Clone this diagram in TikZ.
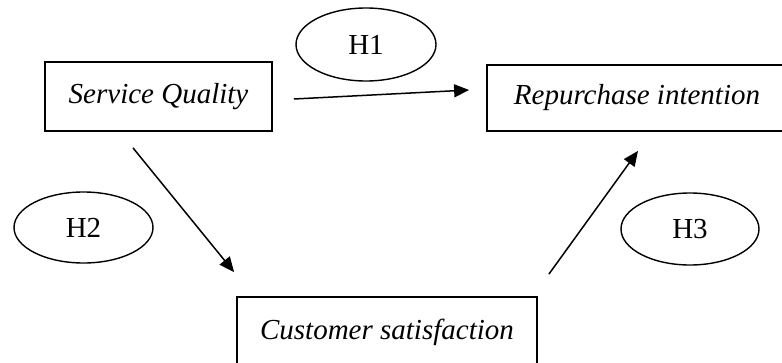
\documentclass[tikz,border=0pt]{standalone}
\usepackage{fontspec}
\setmainfont{Liberation Serif}
\usetikzlibrary{shapes.geometric,arrows.meta}
\begin{document}
\begin{tikzpicture}[x=1pt,y=-1pt,
  box/.style={draw,line width=1.8pt,rectangle,inner sep=0pt,font=\fontsize{29}{34}\selectfont\itshape},
  hyp/.style={draw,line width=1.4pt,ellipse,inner sep=0pt,font=\fontsize{29}{34}\selectfont},
  arr/.style={line width=1.5pt,-{Triangle[length=15pt,width=13pt]}}]
\useasboundingbox (0,0) rectangle (782,362);
\node[box,minimum width=227pt,minimum height=69pt] (sq) at (158.5,96.5) {Service Quality};
\node[box,minimum width=300pt,minimum height=66pt] (ri) at (637,98) {Repurchase intention};
\node[box,minimum width=300pt,minimum height=70pt] (cs) at (387,332) {\raisebox{5pt}{Customer satisfaction}};
\node[hyp,minimum width=140pt,minimum height=73pt] (h1) at (366,44.5) {H1};
\node[hyp,minimum width=139pt,minimum height=71pt] (h2) at (83.5,227.5) {H2};
\node[hyp,minimum width=138pt,minimum height=72pt] (h3) at (690,229) {H3};
\draw[arr] ([shift={(21,2.5)}]sq.east) -- ([shift={(-17,-8)}]ri.west);
\draw[arr] ([shift={(-25.5,16)}]sq.south) -- ([shift={(-2,-24)}]cs.north west);
\draw[arr] ([shift={(11,-22)}]cs.north east) -- ([shift={(1,19)}]ri.south);
\end{tikzpicture}
\end{document}
